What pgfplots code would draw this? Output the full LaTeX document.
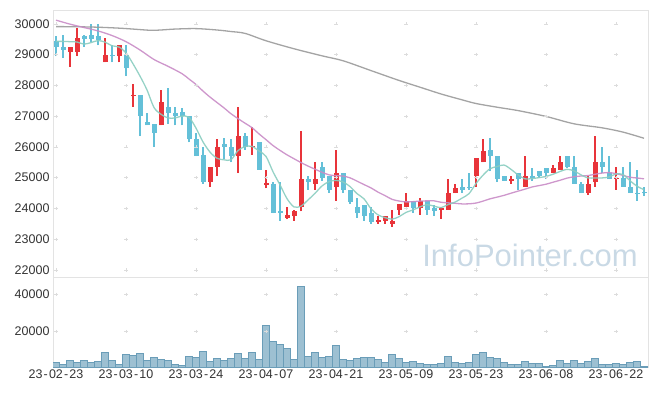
\documentclass[border=0pt]{standalone}
\usepackage{pgfplots}
\pgfplotsset{compat=1.18}
\usepackage{pgfplotstable}
\usepackage{fontspec}
\setmainfont{Liberation Sans}
\definecolor{cRed}{HTML}{E8343A}
\definecolor{cBlue}{HTML}{64C0D8}
\definecolor{cTeal}{HTML}{8ACDC0}
\definecolor{cPurple}{HTML}{C98CC6}
\definecolor{cGray}{HTML}{9A9A9A}
\definecolor{cVol}{HTML}{9DC0D2}
\definecolor{cVolE}{HTML}{6A9DB8}
\definecolor{cGrid}{HTML}{DCDCDC}
\definecolor{cFrame}{HTML}{E3E3E3}
\definecolor{cText}{HTML}{333333}
\definecolor{cWM}{HTML}{C9D9E5}

\pgfplotstableread{
i O H L C
2 29100 29250 28600 29250
3 29100 29850 28950 29550
7 28750 29550 28750 29000
9 28950 29300 28750 29300
11 27650 28050 27300 27700
15 26700 27850 26700 27450
22 24850 25350 24700 25350
23 25350 26250 25050 26000
26 25700 27300 25150 26350
28 25980 26650 25750 26030
30 24760 25250 24650 24820
33 23700 24050 23650 23800
34 23750 23950 23600 23900
35 24050 26500 23900 24950
37 24800 25500 24600 24950
40 24700 25900 24250 25150
46 23550 23750 23500 23610
47 23600 23750 23500 23750
48 23500 23950 23400 23600
49 23950 24150 23800 24150
50 24050 24500 24050 24250
52 24000 24350 23800 24250
55 23950 24050 23650 24000
56 23950 24950 23950 24500
57 24500 24800 24500 24650
60 25050 25650 24700 25650
61 25500 26250 25500 25850
65 24900 25050 24800 24970
67 24700 25700 24700 25050
71 25150 25400 25150 25300
72 25250 25700 25250 25500
76 24500 25050 24450 24800
77 24850 26350 24700 25500
80 24950 25350 24600 25000
}\up

\pgfplotstableread{
i O H L C
0 29450 29600 28950 29250
1 29250 29650 28900 29150
4 29600 29650 29250 29500
5 29650 30000 29400 29500
6 29600 30000 29300 29480
8 28980 29300 28750 28940
10 29000 29300 28300 28550
12 27700 27700 26350 27000
13 26800 27100 26700 26700
14 26750 26750 26000 26450
16 27300 27900 26750 27100
17 27100 27300 26700 27000
18 27120 27250 26700 27000
19 27000 27000 26150 26250
20 26250 26450 25700 25700
21 25750 26000 24800 24850
24 26100 26300 25600 26000
25 26000 26250 25500 25700
27 26350 26450 25900 26000
29 26150 26150 25250 25250
31 24800 24850 23850 23850
32 23900 24850 23600 23860
36 24950 25050 24600 24850
38 25350 25500 24900 25000
39 25050 25050 24500 24600
41 25150 25150 24500 24600
42 24600 24600 24150 24200
43 24050 24350 23700 23850
44 24100 24100 23600 23750
45 23850 24050 23500 23550
51 24250 24250 23850 24000
53 24250 24250 23800 23950
54 24000 24100 23750 23920
58 24700 24950 24500 24600
59 24700 25150 24600 24650
62 25900 26300 25200 25700
63 25700 25700 24850 24950
64 25050 25050 24900 24900
66 25150 25150 24600 24950
68 25050 25300 24900 25000
69 25200 25200 25000 25050
70 25300 25300 24950 25150
73 25700 25700 25300 25350
74 25350 25700 24800 24800
75 24800 24850 24500 24500
78 25500 26000 25150 25350
79 25150 25700 24950 24950
81 25000 25350 24700 24700
82 24700 25500 24500 24500
83 24510 25250 24250 24470
84 24530 24680 24400 24490
}\down

\pgfplotstableread{
i v
0 29430
1 29430
2 29420
3 29410
4 29340
5 29390
6 29456
7 29406
8 29286
9 29246
10 29056
11 28700
12 28300
13 27850
14 27280
15 27060
16 26940
17 26940
18 27000
19 26960
20 26610
21 26160
22 25830
23 25630
24 25580
25 25580
26 25880
27 26010
28 26016
29 25866
30 25690
31 25190
32 24764
33 24318
34 24048
35 24074
36 24274
37 24490
38 24730
39 24870
40 24910
41 24860
42 24710
43 24480
44 24310
45 23990
46 23790
47 23700
48 23650
49 23730
50 23870
51 23950
52 24050
53 24120
54 24074
55 24024
56 24124
57 24204
58 24334
59 24480
60 24810
61 25080
62 25290
63 25360
64 25410
65 25270
66 25090
67 24960
68 24970
69 25000
70 25040
71 25110
72 25200
73 25270
74 25220
75 25090
76 24990
77 24990
78 24990
79 25020
80 25120
81 25100
82 24900
83 24722
84 24608
}\maA

\pgfplotstableread{
i v
0 30120
2 29990
4 29880
6 29770
8 29620
10 29420
12 29150
14 28840
16 28620
18 28380
19 28206
20 28029
21 27814
22 27619
23 27442
24 27267
25 27077
26 26920
27 26770
28 26624
29 26422
30 26235
31 26043
32 25886
33 25741
34 25614
35 25489
36 25376
37 25274
38 25174
39 25091
40 25064
41 25051
42 24994
43 24886
44 24774
45 24666
46 24529
47 24416
48 24295
49 24240
50 24211
51 24219
52 24238
53 24245
54 24246
55 24199
56 24181
57 24166
58 24146
59 24149
60 24174
61 24236
62 24311
63 24366
64 24424
65 24494
66 24561
67 24626
68 24696
69 24741
70 24786
71 24851
72 24914
73 24984
74 25028
75 25053
76 25068
77 25110
78 25148
79 25165
80 25130
81 25073
82 25013
83 24988
84 24962
}\maB

\pgfplotstableread{
i v
0 29910
3 29905
6 29890
9 29860
11 29830
13.5 29790
15 29800
17 29830
20 29845
23 29800
25 29750
27 29690
30 29450
34 29190
38 28960
41 28800
45 28480
49 28160
52 27940
55 27720
58 27530
60 27410
63 27290
66 27180
70 26990
74 26750
78 26620
81 26480
84 26280
}\maC

\pgfplotstableread{
i V
0 3420
1 2160
2 4320
3 3240
4 4320
5 3240
6 3780
7 8650
8 4320
9 2160
10 7570
11 7030
12 8110
13 4320
14 5950
15 4870
16 4320
17 2160
18 1620
19 6490
20 5950
21 9190
22 3780
23 5410
24 4320
25 5410
26 8110
27 5410
28 8650
29 4870
30 23250
31 14600
32 12970
33 10810
34 4870
35 44330
36 6490
37 8650
38 5950
39 6490
40 12430
41 4870
42 4320
43 5410
44 5950
45 5950
46 4870
47 3240
48 7570
49 5410
50 3240
51 3780
52 2700
53 2160
54 2160
55 2700
56 6490
57 3240
58 2700
59 3240
60 7570
61 8650
62 5950
63 5410
64 3240
65 2160
66 2160
67 3780
68 2700
69 2700
70 1080
71 1620
72 4320
73 2700
74 4320
75 2700
76 3780
77 5410
78 2160
79 2160
80 2700
81 2160
82 3240
83 3780
84 1080
}\vol

\newcommand{\hy}{\makebox[6.5pt]{-}}

\pgfplotsset{
  commonax/.style={
    scale only axis, width=595pt,
    xmin=-0.43, xmax=84.57,
    xtick={0,10,...,80},
    major tick length=0pt,
    axis line style={draw=cFrame, line width=0.8pt},
    scaled y ticks=false,
    tick label style={font=\fontsize{12.5}{14}\selectfont, text=cText},
    yticklabel style={/pgf/number format/fixed, /pgf/number format/precision=0, /pgf/number format/1000 sep={}, /pgf/number format/assume math mode=true},
  },
  gridmark/.style={only marks, mark=+, mark size=1.6pt, color=cGrid, mark options={line width=0.5pt}},
  candle/.style={only marks, mark=*, mark size=0pt, mark options={draw=none, fill=none},
    error bars/.cd, y dir=plus, y explicit, error mark=none,
    error bar style={line width=#1}},
}

\begin{document}
\begin{tikzpicture}

\begin{axis}[commonax,
  name=price,
  height=267.3pt,
  ymin=21760, ymax=30450,
  ytick={22000,23000,...,30000},
  xticklabels={},
]
\pgfplotsinvokeforeach{22000,23000,24000,25000,26000,27000,28000,29000,30000}{
  \addplot[gridmark] coordinates {(0,#1) (10,#1) (20,#1) (30,#1) (40,#1) (50,#1) (60,#1) (70,#1) (80,#1)};
}
% wicks
\addplot[color=cRed, candle=1.1pt]
  table[x=i, y=L, y error expr=\thisrow{H}-\thisrow{L}] {\up};
\addplot[color=cBlue, candle=1.1pt]
  table[x=i, y=L, y error expr=\thisrow{H}-\thisrow{L}] {\down};
% bodies
\addplot[color=cRed, candle=5pt]
  table[x=i, y=O, y error expr=\thisrow{C}-\thisrow{O}] {\up};
\addplot[color=cBlue, candle=5pt]
  table[x=i, y=C, y error expr=\thisrow{O}-\thisrow{C}] {\down};
% moving averages
\addplot[cGray, line width=1.3pt, smooth, mark=none, opacity=0.9] table[x=i, y=v] {\maC};
\addplot[cPurple, line width=1.3pt, smooth, mark=none, opacity=0.9] table[x=i, y=v] {\maB};
\addplot[cTeal, line width=1.3pt, smooth, mark=none, opacity=0.9] table[x=i, y=v] {\maA};
\end{axis}

\node[anchor=base, text=cWM, font=\fontsize{31}{31}\selectfont] at ([xshift=-118pt,yshift=10.3pt]price.south east) {InfoPointer.com};

\begin{axis}[commonax,
  name=vol,
  at={(price.south west)}, anchor=north west,
  height=90pt,
  ymin=650, ymax=49190,
  ytick={20000,40000},
  xticklabels={23\hy02\hy23,23\hy03\hy10,23\hy03\hy24,23\hy04\hy07,23\hy04\hy21,23\hy05\hy09,23\hy05\hy23,23\hy06\hy08,23\hy06\hy22},
  xticklabel style={yshift=1pt},
]
\pgfplotsinvokeforeach{20000,40000}{
  \addplot[gridmark] coordinates {(0,#1) (10,#1) (20,#1) (30,#1) (40,#1) (50,#1) (60,#1) (70,#1) (80,#1)};
}
\addplot[ybar, bar width=1, bar shift=0pt, fill=cVol, draw=cVolE, line width=0.7pt] table[x=i, y=V] {\vol};
\end{axis}

\path ([xshift=-53pt,yshift=10pt]price.north west) coordinate (tl);
\path ([xshift=9pt,yshift=-29pt]vol.south east) coordinate (br);
\path (tl) rectangle (br);
\end{tikzpicture}
\end{document}
